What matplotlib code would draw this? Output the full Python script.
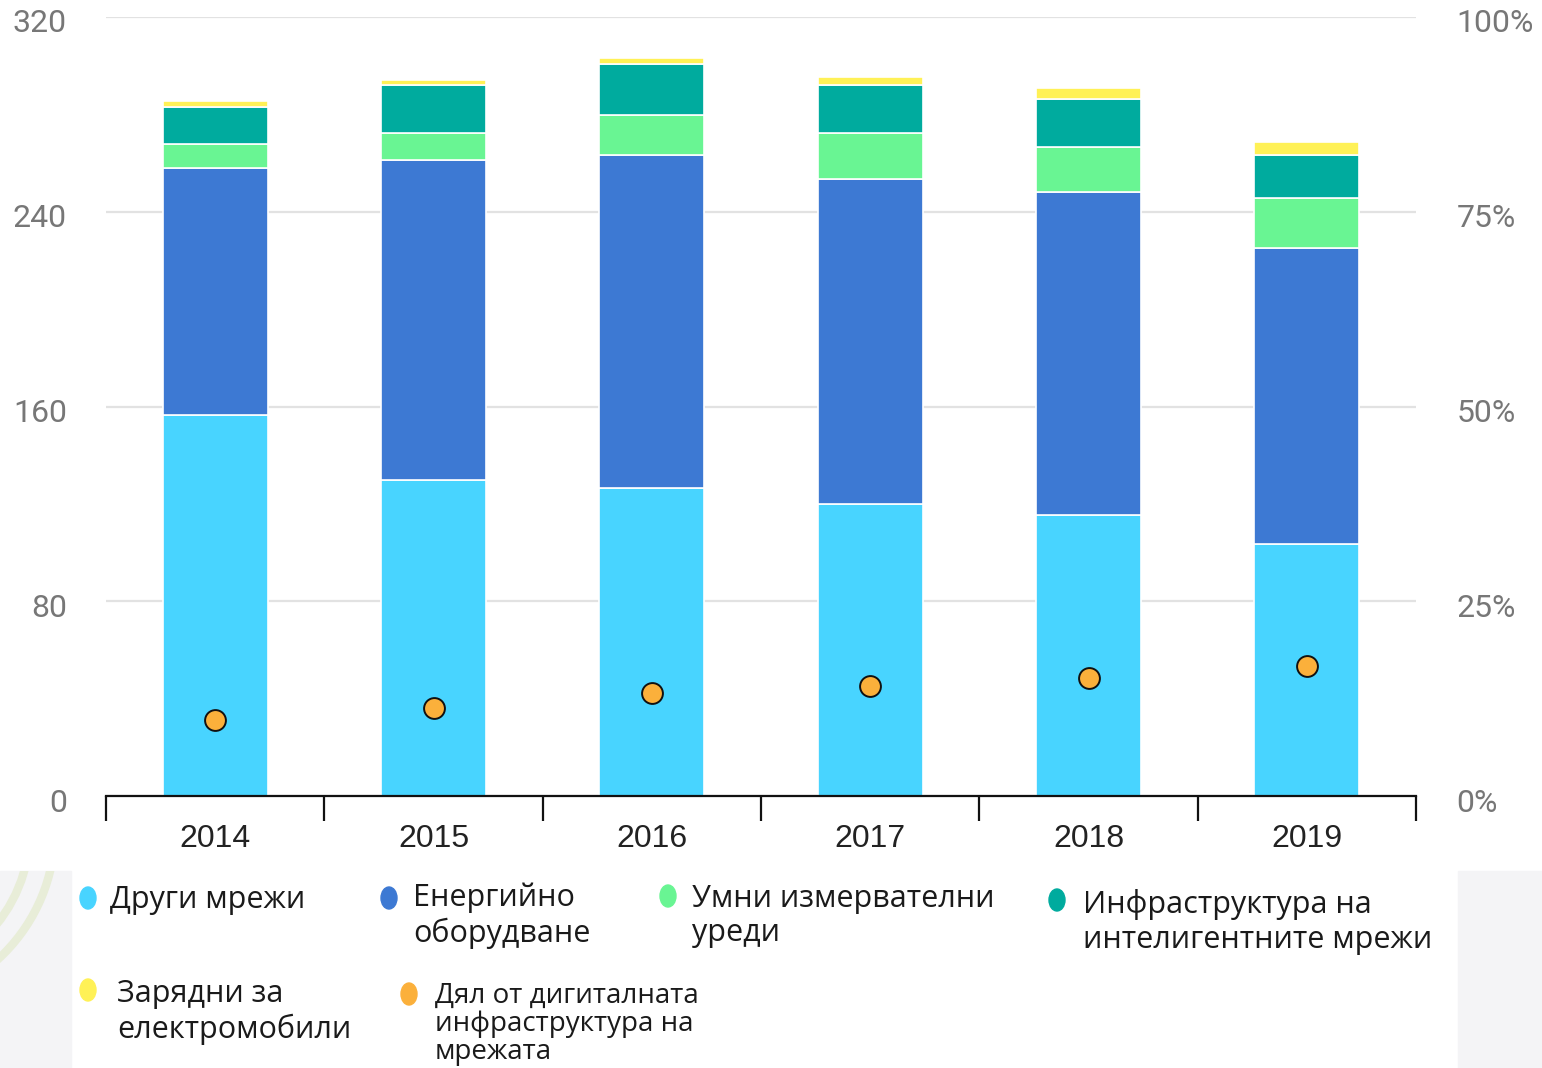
import numpy as np
import matplotlib
matplotlib.use("Agg")
import matplotlib.pyplot as plt
from matplotlib.patches import Ellipse, Rectangle, Arc
from matplotlib.transforms import ScaledTranslation

# investment by segment, bn USD
years = ["2014", "2015", "2016", "2017", "2018", "2019"]
other_grids = [156.5, 129.8, 126.5, 120.0, 115.4, 103.5]
energy_equipment = [101.5, 131.5, 136.9, 133.5, 132.7, 121.6]
smart_meters = [9.9, 11.0, 16.4, 18.9, 18.7, 20.7]
smart_grid_infra = [15.3, 19.8, 20.9, 19.7, 19.6, 17.5]
ev_chargers = [2.4, 2.1, 2.4, 3.2, 4.4, 5.5]
# share of digital grid infrastructure, %
digital_share = [9.8, 11.3, 13.2, 14.1, 15.1, 16.7]

left_ticks = [0, 80, 160, 240, 320]
right_ticks = [0, 25, 50, 75, 100]

series = [
    ("Други мрежи", other_grids, "#48d4ff"),
    ("Енергийно\nоборудване", energy_equipment, "#3d79d3"),
    ("Умни измервателни\nуреди", smart_meters, "#69f593"),
    ("Инфраструктура на\nинтелигентните мрежи", smart_grid_infra, "#00ab9e"),
    ("Зарядни за\nелектромобили", ev_chargers, "#fff156"),
]
dot_label = "Дял от дигиталната\nинфраструктура на\nмрежата"
dot_color = "#fbb03b"

W, H = 1542, 1068
fig = plt.figure(figsize=(W / 100, H / 100), dpi=100)


def fx(x):
    return x / W


def fy(y):
    return 1 - y / H


ax = fig.add_axes([fx(106), fy(796), 1310 / W, (796 - 17) / H])
x = np.arange(len(years))
bottom = np.zeros(len(years))
for name, vals, col in series:
    ax.bar(x, vals, width=0.48, bottom=bottom, color=col,
           edgecolor="white", linewidth=1.2, zorder=3)
    bottom += np.array(vals)

ax.set_xlim(-0.5, len(years) - 0.5)
ax.set_ylim(0, 320)
ax.set_yticks(left_ticks)
ax.set_yticklabels([str(t) for t in left_ticks])
ax.grid(axis="y", color="#e2e2e2", linewidth=1.6, zorder=0)
ax.set_axisbelow(True)

ax.set_xticks(np.arange(-0.5, len(years)), minor=False)
ax.set_xticklabels([])
ax.set_xticks(x, minor=True)
ax.set_xticklabels(years, minor=True)
ax.tick_params(axis="x", which="major", direction="out", length=18, width=1.6, color="#111111")
ax.tick_params(axis="x", which="minor", length=0, pad=20, labelsize=23, labelcolor="#222222")
ax.tick_params(axis="y", length=0, pad=28, labelsize=23, labelcolor="#777777")
for lab in ax.get_xticklabels(minor=True):
    lab.set_family("Liberation Sans")

for s in ["top", "left", "right"]:
    ax.spines[s].set_visible(False)
ax.spines["bottom"].set_color("#111111")
ax.spines["bottom"].set_linewidth(1.6)
ax.spines["bottom"].set_zorder(5)

ax2 = ax.twinx()
ax2.set_ylim(0, 100)
ax2.set_yticks(right_ticks)
ax2.set_yticklabels([f"{t}%" for t in right_ticks])
ax2.tick_params(axis="y", length=0, pad=29, labelsize=23, labelcolor="#777777")
for s in ax2.spines.values():
    s.set_visible(False)
ax2.plot(x, digital_share, linestyle="none", marker="o", markersize=15,
         markerfacecolor=dot_color, markeredgecolor="#111111", markeredgewidth=1.4, zorder=6)

# value labels sit a little below their gridlines
shift = ScaledTranslation(0, -4 / 100, fig.dpi_scale_trans)
for lab in ax.get_yticklabels() + ax2.get_yticklabels():
    lab.set_family("Roboto")
    lab.set_verticalalignment("center_baseline")
    lab.set_transform(lab.get_transform() + shift)

# legend panel with grey margins
panel_clip = Rectangle((0, 0), fx(71), (H - 871) / H, transform=fig.transFigure)
for x0, x1 in [(0, 71), (1458, W)]:
    fig.add_artist(Rectangle((fx(x0), 0), (x1 - x0) / W, (H - 871) / H,
                             transform=fig.transFigure, color="#f4f4f6", zorder=0))
for r in (175, 150):
    arc = Arc((fx(-120), fy(830)), 2 * r / W, 2 * r / H, theta1=-90, theta2=0,
              transform=fig.transFigure, color="#e8edd8", linewidth=6, zorder=1)
    arc.set_clip_path(panel_clip)
    fig.add_artist(arc)

legend_pos = [
    (88, 898, 110, 900),
    (389, 898, 413, 916),
    (668, 896, 692, 916),
    (1057, 900, 1083, 922),
    (88, 990, 117, 1012),
]
for (name, vals, col), (mx, my, tx, ty) in zip(series, legend_pos):
    fig.add_artist(Ellipse((fx(mx), fy(my)), 16 / W, 22 / H, transform=fig.transFigure,
                           color=col, zorder=2))
    fig.text(fx(tx), fy(ty), name, family="Open Sans", fontsize=22, color="#1a1a1a",
             ha="left", va="center", linespacing=1.2)

fig.add_artist(Ellipse((fx(409), fy(994)), 16 / W, 22 / H, transform=fig.transFigure,
                       color=dot_color, zorder=2))
fig.text(fx(435), fy(1024), dot_label, family="Open Sans", fontsize=20, color="#1a1a1a",
         ha="left", va="center", linespacing=1.02)

fig.savefig("out.png", dpi=100)
